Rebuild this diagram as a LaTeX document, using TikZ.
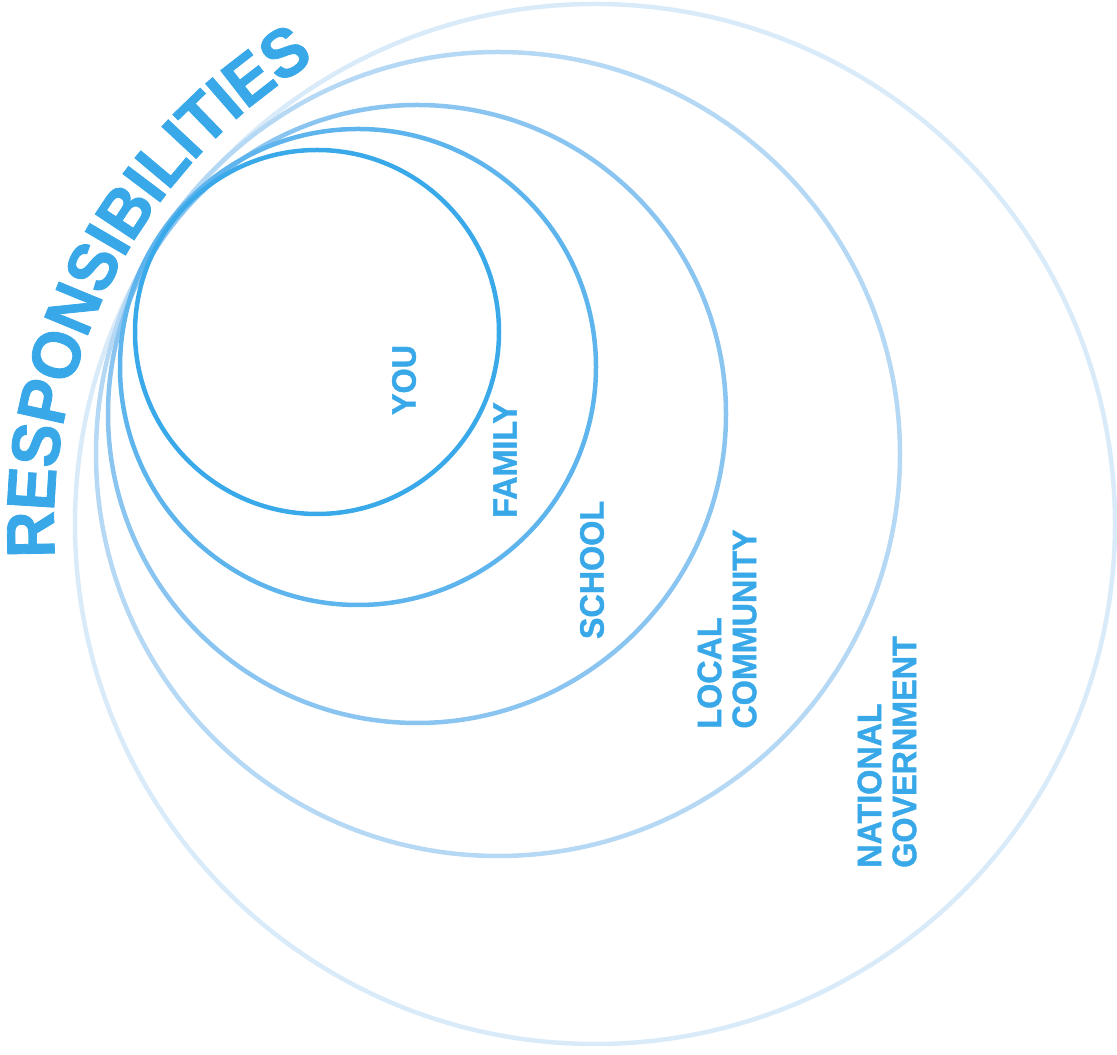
\documentclass[tikz,border=0pt]{standalone}
\usepackage{fontspec}
\setmainfont{Liberation Sans}[FakeStretch=0.95, BoldFeatures={FakeBold=1.2}]
\usetikzlibrary{calc}
\definecolor{txtblue}{HTML}{38A8E8}
\definecolor{cone}{HTML}{3AA9E9}
\definecolor{ctwo}{HTML}{5EB4EC}
\definecolor{cthree}{HTML}{8AC4F0}
\definecolor{cfour}{HTML}{B5D8F5}
\definecolor{cfive}{HTML}{D9EAF9}
\newcommand{\labfont}{\bfseries\fontsize{34}{35}\selectfont}
\newcommand{\resfont}{\bfseries\fontsize{68}{70}\selectfont}
\tikzset{
  ring/.style={line width=4.5pt},
  lab/.style={rotate=90, align=left, inner sep=0pt, text=txtblue, font=\labfont},
  resl/.style={anchor=base, inner sep=0pt, text=txtblue, font=\resfont}
}
\begin{document}
\begin{tikzpicture}[x=1pt,y=1pt]
\useasboundingbox (0,0) rectangle (1117,1055);
\coordinate (cyou) at (317,723);
\coordinate (cfam) at (358,688);
\coordinate (csch) at (417,641);
\coordinate (cloc) at (498,601);
\coordinate (cnat) at (595,531);
\draw[ring, cfive] (cnat) circle[radius=520];
\draw[ring, cfour] (cloc) circle[radius=402];
\draw[ring, cthree] (csch) circle[radius=309];
\draw[ring, ctwo] (cfam) circle[radius=238];
\draw[ring, cone] (cyou) circle[radius=182];
\node[lab] (you) at (404,675) {YOU};
\node[lab] (family) at (505,595) {FAMILY};
\node[lab] (school) at (592,485) {SCHOOL};
\node[lab] (local) at (727,426) {LOCAL\\COMMUNITY};
\node[lab] (national) at (887,303) {NATIONAL\\GOVERNMENT};
% curved title: letters placed along an arc about the outer centre
\def\startang{183.5}
\def\degem{6.72}
\def\baserad{541}
\foreach \ch/\w [count=\i, remember=\cum as \prev (initially 0)] in
  {R/.722,E/.667,S/.667,P/.667,O/.778,N/.722,S/.667,I/.278,B/.722,I/.278,L/.611,I/.278,T/.611,I/.278,E/.667,S/.667}
{
  \pgfmathsetmacro\cum{\prev+\w}
  \pgfmathsetmacro\ang{\startang-(\prev+\w/2)*\degem}
  \node[resl, rotate=\ang-90] (res\i) at ($(cnat)+(\ang:\baserad)$) {\ch};
}
\end{tikzpicture}
\end{document}
